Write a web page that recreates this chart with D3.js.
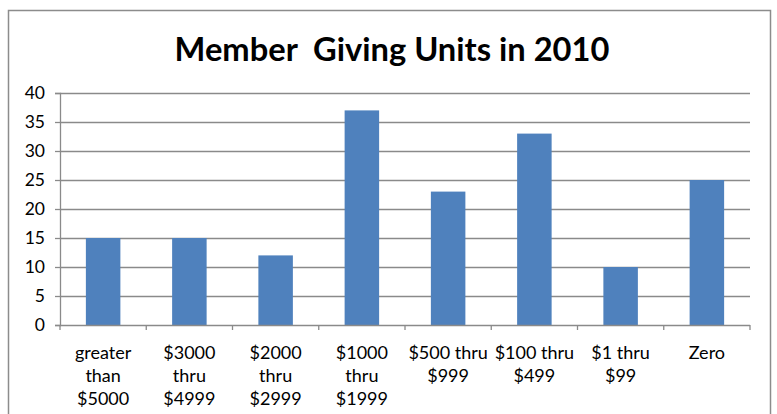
<!DOCTYPE html>
<html>
<head lang="en">
    <meta charset="UTF-8">
    <title>Member Giving Units in 2010</title>
    <script src="https://cdn.jsdelivr.net/npm/d3@7/dist/d3.min.js"></script>
    <style>
        body{margin:0;background:#fff;}
        text{font-family:Lato,"Open Sans",sans-serif;fill:#000;}
    </style>
</head>
<body>
</body>
</html>
<script>
    var title="Member\u00a0 Giving Units in 2010";
    var categories=[
        ["greater","than","$5000"],
        ["$3000","thru","$4999"],
        ["$2000","thru","$2999"],
        ["$1000","thru","$1999"],
        ["$500 thru","$999"],
        ["$100 thru","$499"],
        ["$1 thru","$99"],
        ["Zero"]
    ];
    var values=[15,15,12,37,23,33,10,25];
    var yTicks=[0,5,10,15,20,25,30,35,40];

    var W=777,H=414;
    var pLeft=60,pRight=750,pTop=93,pBottom=325;
    var gridColor='#8a8a8a';

    var _svg=d3.select('body')
            .append('svg')
            .attr('width',W)
            .attr('height',H);

    // outer frame of the chart
    _svg.append('rect')
            .attr('x',8.5).attr('y',10.5)
            .attr('width',762).attr('height',420)
            .attr('fill','#fff')
            .attr('stroke','#8c8c8c')
            .attr('stroke-width',1.5);

    var _title=_svg.append('text')
            .attr('x',392)
            .attr('y',61)
            .attr('text-anchor','middle')
            .style('font-weight','bold')
            .style('font-size','32px')
            .text(title);
    // fit the title to the width seen in the picture
    var tw=_title.node().getComputedTextLength();
    _title.style('font-size',(32*435/tw)+'px');

    var x=d3.scaleBand()
            .domain(d3.range(categories.length))
            .range([pLeft,pRight])
            .paddingInner(0.6)
            .paddingOuter(0.3);
    var y=d3.scaleLinear()
            .domain([0,40])
            .range([pBottom,pTop]);

    // gridlines
    _svg.append('g')
            .selectAll('line')
            .data(yTicks.filter(function(d){return d>0;}))
            .enter()
            .append('line')
            .attr('x1',pLeft).attr('x2',pRight)
            .attr('y1',function(d){return Math.round(y(d))+0.5;})
            .attr('y2',function(d){return Math.round(y(d))+0.5;})
            .attr('stroke',gridColor)
            .attr('stroke-width',1.3);

    // bars
    _svg.append('g')
            .selectAll('rect')
            .data(values)
            .enter()
            .append('rect')
            .attr('x',function(d,i){return x(i);})
            .attr('y',function(d){return y(d);})
            .attr('width',x.bandwidth())
            .attr('height',function(d){return y(0)-y(d);})
            .attr('fill','#4f81bd');

    // y axis
    var _yaxis=_svg.append('g')
            .attr('transform','translate('+pLeft+',0)')
            .call(d3.axisLeft(y).tickValues(yTicks).tickSize(5).tickPadding(10));
    _yaxis.select('.domain').attr('stroke',gridColor).attr('stroke-width',1.3);
    _yaxis.selectAll('.tick line').attr('stroke',gridColor).attr('stroke-width',1.3);
    _yaxis.selectAll('.tick text')
            .style('font-family','Lato,"Open Sans",sans-serif')
            .style('font-size','17.5px')
            .attr('fill','#111');

    // x axis with ticks between categories
    var step=x.step();
    _svg.append('line')
            .attr('x1',pLeft).attr('x2',pRight)
            .attr('y1',pBottom+0.5).attr('y2',pBottom+0.5)
            .attr('stroke',gridColor)
            .attr('stroke-width',1.3);
    _svg.append('g')
            .selectAll('line')
            .data(d3.range(categories.length+1))
            .enter()
            .append('line')
            .attr('x1',function(i){return pLeft+i*step;})
            .attr('x2',function(i){return pLeft+i*step;})
            .attr('y1',pBottom).attr('y2',pBottom+5)
            .attr('stroke',gridColor)
            .attr('stroke-width',1.3);

    var _labels=_svg.append('g')
            .selectAll('text')
            .data(categories)
            .enter()
            .append('text')
            .attr('text-anchor','middle')
            .style('font-size','18px')
            .attr('fill','#111')
            .attr('x',function(d,i){return x(i)+x.bandwidth()/2;})
            .attr('y',359);
    _labels.selectAll('tspan')
            .data(function(d){return d;})
            .enter()
            .append('tspan')
            .attr('x',function(){return d3.select(this.parentNode).attr('x');})
            .attr('dy',function(d,j){return j===0?0:23;})
            .text(function(d){return d;});
</script>
